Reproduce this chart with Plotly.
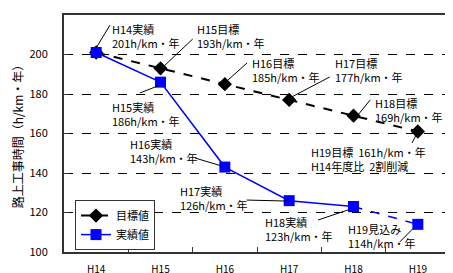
import plotly.graph_objects as go

categories = ["H14", "H15", "H16", "H17", "H18", "H19"]
target_values = [201, 193, 185, 177, 169, 161]
actual_values = [201, 186, 143, 126, 123]
forecast_cats = ["H18", "H19"]
forecast_values = [123, 114]
y_ticks = [100, 120, 140, 160, 180, 200, 220]

FONT = "Noto Sans CJK JP"

fig = go.Figure()
fig.add_trace(go.Scatter(x=categories, y=target_values, name="目標値", mode="lines+markers",
                         line=dict(color="black", width=2, dash="dash"),
                         marker=dict(symbol="diamond", size=11, color="black")))
fig.add_trace(go.Scatter(x=forecast_cats, y=forecast_values, showlegend=False, mode="lines+markers",
                         line=dict(color="#0000FF", width=1.5, dash="dash"),
                         marker=dict(symbol="square", size=11, color="#0000FF")))
fig.add_trace(go.Scatter(x=categories[:5], y=actual_values, name="実績値", mode="lines+markers",
                         line=dict(color="#0000FF", width=1.5),
                         marker=dict(symbol="square", size=11, color="#0000FF")))

# labels: (text, text_x_idx, text_y, line x0, y0, x1, y1)
labels = [
    ("H14実績<br>201h/km・年", 0.215, 209.6, -0.02, 202.3, 0.215, 214.9),
    ("H15目標<br>193h/km・年", 1.536, 209.6, 1.04, 193.7, 1.50, 207.8),
    ("H15実績<br>186h/km・年", 0.215, 170.1, 0.68, 180.5, 0.96, 184.1),
    ("H16目標<br>185h/km・年", 2.39, 192.4, 2.05, 187.1, 2.345, 195.7),
    ("H17目標<br>177h/km・年", 3.68, 192.4, 3.04, 178.5, 3.63, 188.6),
    ("H18目標<br>169h/km・年", 4.30, 171.9, 4.07, 169.4, 4.26, 177.0),
    ("H19目標  161h/km・年<br>H14年度比  2割削減", 3.31, 147.1, 4.99, 160.3, 4.91, 155.2),
    ("H16実績<br>143h/km・年", 0.495, 150.9, 1.536, 147.6, 1.955, 143.5),
    ("H17実績<br>126h/km・年", 1.27, 127.1, 2.34, 126.3, 2.965, 125.8),
    ("H18実績<br>123h/km・年", 2.59, 111.9, 3.45, 116.2, 3.915, 121.3),
    ("H19見込み<br>114h/km・年", 3.88, 108.1, 4.72, 105.1, 4.92, 111.7),
]
for text, tx, ty, x0, y0, x1, y1 in labels:
    fig.add_annotation(x=tx, y=ty, xref="x", yref="y", text=text, showarrow=False,
                       xanchor="left", yanchor="middle", align="left",
                       font=dict(family=FONT, size=11, color="black"))
    fig.add_shape(type="line", xref="x", yref="y", x0=x0, y0=y0, x1=x1, y1=y1,
                  line=dict(color="black", width=1))

fig.update_layout(
    width=453, height=273,
    margin=dict(l=56, r=11, t=7, b=29),
    paper_bgcolor="white", plot_bgcolor="white",
    font=dict(family=FONT, size=11, color="black"),
    legend=dict(x=0.0285, y=0.219, xanchor="left", yanchor="top",
                bgcolor="white", bordercolor="#333333", borderwidth=1,
                font=dict(family=FONT, size=11), tracegroupgap=0, itemwidth=30),
    showlegend=True,
)
fig.update_xaxes(type="category", categoryorder="array", categoryarray=categories,
                 range=[-0.5, 5.5], showline=True, mirror=True, linecolor="#333333", linewidth=2,
                 ticks="inside", tickson="boundaries", ticklen=5, tickcolor="#333333",
                 showgrid=False, ticklabelstandoff=7, tickfont=dict(size=10), automargin=False)
fig.update_yaxes(range=[100, 220], tickvals=y_ticks, showline=True, mirror=True,
                 linecolor="#333333", linewidth=2, ticks="inside", ticklen=5, tickcolor="#333333",
                 ticklabelstandoff=12,
                 showgrid=True, gridcolor="black", griddash="dash", gridwidth=1,
                 zeroline=False, tickfont=dict(size=11), automargin=False,
                 title=dict(text="路上工事時間（h/km・年）", font=dict(size=12), standoff=3))

fig.write_html("out.html")
